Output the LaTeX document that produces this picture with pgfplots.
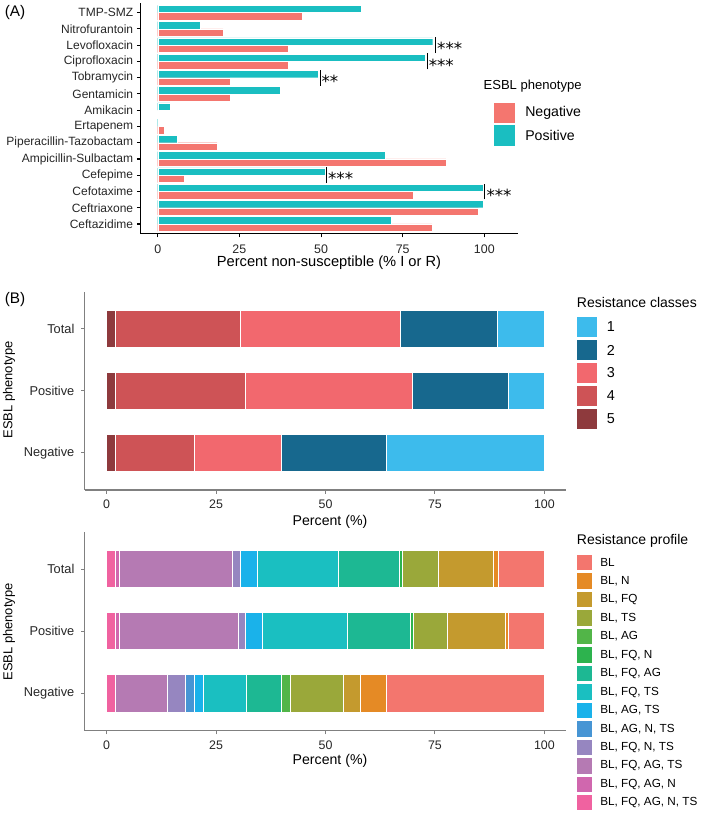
\documentclass[border=0pt]{standalone}
\usepackage{pgfplots}
\pgfplotsset{compat=1.18}
\usepackage{fontspec}
\setmainfont{Liberation Sans}
\newfontfamily\djv{DejaVu Sans}

\newcommand{\fs}[1]{\fontsize{#1}{#1}\selectfont}

% panel A
\definecolor{posA}{HTML}{1ABEC1}
\definecolor{negA}{HTML}{F4766F}
% resistance classes
\definecolor{cA}{HTML}{3DBBEC}
\definecolor{cB}{HTML}{17688E}
\definecolor{cC}{HTML}{F2686E}
\definecolor{cD}{HTML}{CE5356}
\definecolor{cE}{HTML}{8E3A3D}
% resistance profiles
\definecolor{p01}{HTML}{F3766E}
\definecolor{p02}{HTML}{E58A25}
\definecolor{p03}{HTML}{C49A2E}
\definecolor{p04}{HTML}{9AA83A}
\definecolor{p05}{HTML}{52B548}
\definecolor{p06}{HTML}{2DB34E}
\definecolor{p07}{HTML}{1DB893}
\definecolor{p08}{HTML}{1ABFC1}
\definecolor{p09}{HTML}{1AB2EA}
\definecolor{p10}{HTML}{4795D4}
\definecolor{p11}{HTML}{9686C0}
\definecolor{p12}{HTML}{B57AB3}
\definecolor{p13}{HTML}{D067AE}
\definecolor{p14}{HTML}{F062A0}
\definecolor{axgray}{HTML}{808080}

\pgfplotsset{
  gg/.style={
    scale only axis,
    axis x line*=bottom, axis y line*=left,
    tick align=outside,
    major tick length=2.8pt,
    clip=false,
    xtick={0,25,50,75,100},
    xticklabels={0,25,50,75,100},
    xticklabel style={font=\fs{9.3}, text=black!85},
    yticklabel style={font=\fs{9.3}, text=black!85},
  },
  stk/.style={fill=#1, draw=white, line width=0.6pt},
}

\begin{document}
\begin{tikzpicture}
\useasboundingbox (0,0) rectangle (525pt,609.75pt);

% ---------- (A) ----------
\begin{axis}[gg,
  at={(105.45pt,434.44pt)}, anchor=south west,
  width=282.9pt, height=173.1pt,
  xmin=-5.25, xmax=110.25, ymin=0.4, ymax=14.6,
  xbar, bar width=0.45,
  axis line style={black, line width=1pt},
  tick style={black, line width=0.8pt},
  xticklabel style={yshift=-2.2pt},
  yticklabel style={font=\fs{9.0}, xshift=-1.6pt, inner sep=1pt},
  ytick={1,...,14},
  yticklabels={Ceftazidime,Ceftriaxone,Cefotaxime,Cefepime,Ampicillin-Sulbactam,Piperacillin-Tazobactam,Ertapenem,Amikacin,Gentamicin,Tobramycin,Ciprofloxacin,Levofloxacin,Nitrofurantoin,TMP-SMZ},
]
\addplot[fill=negA, draw=white, line width=0.3pt, bar shift=-0.225] coordinates {
  (84.0,1) (98.2,2) (78.1,3) (8.1,4) (88.2,5) (18.2,6) (2.0,7)
  (22.1,9) (22.1,10) (40.0,11) (40.0,12) (20.0,13) (44.1,14)
};
\addplot[fill=posA, draw=white, line width=0.3pt, bar shift=0.225] coordinates {
  (71.6,1) (99.7,2) (99.7,3) (51.2,4) (69.6,5) (5.9,6) (0.4,7)
  (3.7,8) (37.4,9) (49.2,10) (81.8,11) (84.2,12) (13.0,13) (62.4,14)
};
% significance marks
\draw[line width=0.75pt] (axis cs:85.1,11.51) -- (axis cs:85.1,12.49);
\node[anchor=base west, inner sep=0pt, yshift=-7.2pt, font=\djv\fs{12.5}] at (axis cs:85.5,12) {***};
\draw[line width=0.75pt] (axis cs:82.5,10.51) -- (axis cs:82.5,11.49);
\node[anchor=base west, inner sep=0pt, yshift=-7.2pt, font=\djv\fs{12.5}] at (axis cs:82.9,11) {***};
\draw[line width=0.75pt] (axis cs:49.7,9.51) -- (axis cs:49.7,10.49);
\node[anchor=base west, inner sep=0pt, yshift=-7.2pt, font=\djv\fs{12.5}] at (axis cs:50.1,10) {**};
\draw[line width=0.75pt] (axis cs:51.7,3.51) -- (axis cs:51.7,4.49);
\node[anchor=base west, inner sep=0pt, yshift=-7.2pt, font=\djv\fs{12.5}] at (axis cs:52.1,4) {***};
\draw[line width=0.75pt] (axis cs:100.2,2.51) -- (axis cs:100.2,3.49);
\node[anchor=base west, inner sep=0pt, yshift=-7.2pt, font=\djv\fs{12.5}] at (axis cs:100.6,3) {***};
\end{axis}

% ---------- (B) classes ----------
\begin{axis}[gg,
  at={(63.6pt,242.25pt)}, anchor=south west,
  width=361.1pt, height=148.7pt,
  xmin=-5, xmax=105, ymin=0.4, ymax=3.6,
  xbar stacked, bar width=0.6,
  axis line style={axgray, line width=1pt},
  tick style={axgray, line width=0.8pt},
  xticklabel style={yshift=-1.2pt},
  yticklabel style={font=\fs{9.6}, xshift=-1.5pt},
  ytick={1,2,3}, yticklabels={Negative,Positive,Total},
]
\addplot[stk=cE] coordinates {(2.0,1) (2.0,2) (2.0,3)};
\addplot[stk=cD] coordinates {(18.0,1) (29.7,2) (28.6,3)};
\addplot[stk=cC] coordinates {(20.0,1) (38.1,2) (36.6,3)};
\addplot[stk=cB] coordinates {(24.0,1) (22.0,2) (22.1,3)};
\addplot[stk=cA] coordinates {(36.0,1) (8.2,2) (10.7,3)};
\end{axis}

% ---------- (B) profiles ----------
\begin{axis}[gg,
  at={(63.6pt,61.7pt)}, anchor=south west,
  width=361.1pt, height=149.25pt,
  xmin=-5, xmax=105, ymin=0.4, ymax=3.6,
  xbar stacked, bar width=0.6,
  axis line style={axgray, line width=1pt},
  tick style={axgray, line width=0.8pt},
  xticklabel style={yshift=-1.2pt},
  yticklabel style={font=\fs{9.6}, xshift=-1.5pt},
  ytick={1,2,3}, yticklabels={Negative,Positive,Total},
]
\addplot[stk=p14] coordinates {(2.0,1) (2.0,2) (2.0,3)};   % BL, FQ, AG, N, TS
\addplot[stk=p13] coordinates {(0,1) (0.9,2) (0.9,3)};     % BL, FQ, AG, N
\addplot[stk=p12] coordinates {(11.8,1) (27.2,2) (25.8,3)}; % BL, FQ, AG, TS
\addplot[stk=p11] coordinates {(4.2,1) (1.6,2) (1.8,3)};   % BL, FQ, N, TS
\addplot[stk=p10] coordinates {(2.0,1) (0,2) (0,3)};       % BL, AG, N, TS
\addplot[stk=p09] coordinates {(2.0,1) (3.9,2) (3.9,3)};   % BL, AG, TS
\addplot[stk=p08] coordinates {(10.0,1) (19.4,2) (18.5,3)}; % BL, FQ, TS
\addplot[stk=p07] coordinates {(8.0,1) (14.4,2) (14.0,3)}; % BL, FQ, AG
\addplot[stk=p06] coordinates {(0,1) (0.6,2) (0.7,3)};     % BL, FQ, N
\addplot[stk=p05] coordinates {(2.0,1) (0,2) (0,3)};       % BL, AG
\addplot[stk=p04] coordinates {(12.0,1) (7.9,2) (8.2,3)};  % BL, TS
\addplot[stk=p03] coordinates {(4.0,1) (13.3,2) (12.5,3)}; % BL, FQ
\addplot[stk=p02] coordinates {(6.0,1) (0.5,2) (1.2,3)};   % BL, N
\addplot[stk=p01] coordinates {(36.0,1) (8.3,2) (10.5,3)}; % BL
\end{axis}

% ---------- titles, labels, legends (pixel grid) ----------
\begin{scope}[x=0.75pt, y=-0.75pt, shift={(0pt,609.75pt)}]
\node[font=\fs{11.5}] at (15,12.5) {(A)};
\node[font=\fs{11.5}] at (15,300) {(B)};

\node[font=\fs{11}, inner sep=1pt] at (329,263) {Percent non-susceptible (\% I or R)};
\node[font=\fs{10.6}] at (330,522) {Percent (\%)};
\node[font=\fs{10.6}] at (330,761) {Percent (\%)};
\node[font=\fs{9.7}, rotate=90] at (9,390) {ESBL phenotype};
\node[font=\fs{9.7}, rotate=90] at (9,632) {ESBL phenotype};

% legend A
\node[anchor=west, inner sep=0pt, font=\fs{9.8}] at (483.3,86) {ESBL phenotype};
\fill[negA] (494.3,102.7) rectangle (515,123.3);
\fill[posA] (494.3,125) rectangle (515,145.7);
\node[anchor=west, inner sep=0pt, font=\fs{10.6}] at (525,113) {Negative};
\node[anchor=west, inner sep=0pt, font=\fs{10.6}] at (525,135.3) {Positive};

% legend classes
\node[anchor=west, inner sep=0pt, font=\fs{10.5}] at (576.7,303) {Resistance classes};
\foreach \c/\t [count=\i from 0] in {cA/1,cB/2,cC/3,cD/4,cE/5}{
  \fill[\c] (576.7,317.3+23*\i) rectangle (596.7,336.8+23*\i);
  \node[anchor=west, inner sep=0pt, font=\fs{10.8}] at (606.7,327+23*\i) {\t};
}

% legend profiles
\node[anchor=west, inner sep=0pt, font=\fs{10.5}] at (576.7,541) {Resistance profile};
\foreach \c/\t [count=\i from 0] in {p01/{BL},p02/{BL, N},p03/{BL, FQ},p04/{BL, TS},p05/{BL, AG},p06/{BL, FQ, N},p07/{BL, FQ, AG},p08/{BL, FQ, TS},p09/{BL, AG, TS},p10/{BL, AG, N, TS},p11/{BL, FQ, N, TS},p12/{BL, FQ, AG, TS},p13/{BL, FQ, AG, N},p14/{BL, FQ, AG, N, TS}}{
  \fill[\c] (576.7,555+18.46*\i) rectangle (592,570.5+18.46*\i);
  \node[anchor=west, inner sep=0pt, font=\fs{8.8}] at (600,562.8+18.46*\i) {\t};
}
\end{scope}
\end{tikzpicture}
\end{document}
